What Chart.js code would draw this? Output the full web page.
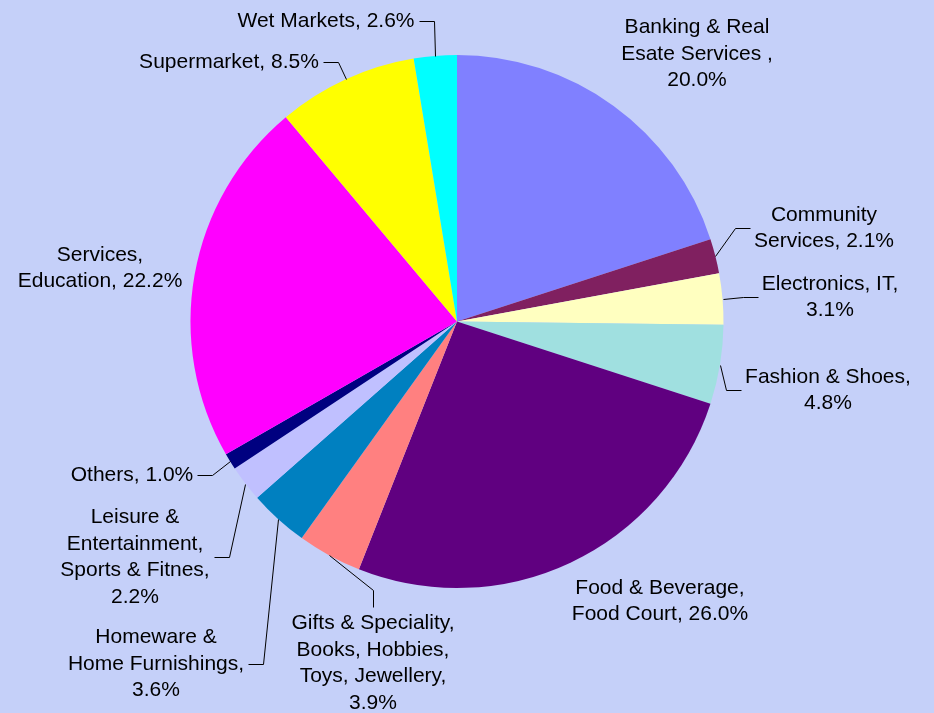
<!DOCTYPE html>
<html>
<head>
<meta charset="utf-8">
<script src="https://cdn.jsdelivr.net/npm/chart.js@4"></script>
<style>
  body { margin: 0; background: #C5D0F9; }
  #wrap { width: 934px; height: 713px; }
</style>
</head>
<body>
<div id="wrap"><canvas id="pieChart" width="934" height="713"></canvas></div>
<script>
const categories = [
    'Banking & Real Esate Services ', 'Community Services', 'Electronics, IT', 'Fashion & Shoes',
    'Food & Beverage, Food Court', 'Gifts & Speciality, Books, Hobbies, Toys, Jewellery',
    'Homeware & Home Furnishings', 'Leisure & Entertainment, Sports & Fitnes', 'Others',
    'Services, Education', 'Supermarket', 'Wet Markets'
];
const shares = [20.0, 2.1, 3.1, 4.8, 26.0, 3.9, 3.6, 2.2, 1.0, 22.2, 8.5, 2.6];
const colors = ['#8080FF', '#802060', '#FFFFC0', '#A0E0E0', '#600080', '#FF8080',
    '#0080C0', '#C0C0FF', '#000080', '#FF00FF', '#FFFF00', '#00FFFF'];

// where each label block sits, how wide it may wrap, and which side gets the leader
const labelLayout = [
    { cx: 697, cy: 54, wrap: 165, lead: null },
    { cx: 824, cy: 228, wrap: 160, lead: 'left' },
    { cx: 830, cy: 297, wrap: 160, lead: 'left' },
    { cx: 828, cy: 390, wrap: 180, lead: 'left' },
    { cx: 660, cy: 601, wrap: 200, lead: null },
    { cx: 373, cy: 663, wrap: 180, lead: 'top' },
    { cx: 156, cy: 664, wrap: 179, lead: 'right' },
    { cx: 135, cy: 557, wrap: 160, lead: 'right' },
    { cx: 132, cy: 475, wrap: 250, lead: 'right' },
    { cx: 100, cy: 268, wrap: 175, lead: null },
    { cx: 229, cy: 62, wrap: 250, lead: 'right' },
    { cx: 326, cy: 21, wrap: 250, lead: 'right' }
];

const FONT = '21px "Liberation Sans", Arial, sans-serif';
const LH = 26.5;

function wrapText(ctx, text, maxW) {
    const words = text.split(' ');
    const lines = [];
    let cur = '';
    words.forEach(w => {
        const test = cur ? cur + ' ' + w : w;
        if (cur && ctx.measureText(test).width > maxW) {
            lines.push(cur);
            cur = w;
        } else {
            cur = test;
        }
    });
    if (cur) lines.push(cur);
    return lines;
}

const outsideLabels = {
    id: 'outsideLabels',
    afterDraw(chart) {
        const ctx = chart.ctx;
        const arcs = chart.getDatasetMeta(0).data;
        ctx.save();
        ctx.font = FONT;
        ctx.fillStyle = '#000';
        ctx.strokeStyle = '#000';
        ctx.lineWidth = 1;
        arcs.forEach((arc, i) => {
            const lay = labelLayout[i];
            const text = categories[i] + ', ' + shares[i].toFixed(1) + '%';
            const lines = wrapText(ctx, text, lay.wrap);
            const w = Math.max(...lines.map(l => ctx.measureText(l).width));
            const top = lay.cy - lines.length * LH / 2;
            ctx.textAlign = 'center';
            ctx.textBaseline = 'middle';
            lines.forEach((l, k) => ctx.fillText(l, lay.cx, top + LH * (k + 0.5)));

            if (!lay.lead) return;
            const p = arc.getProps(['x', 'y', 'startAngle', 'endAngle', 'outerRadius'], true);
            const mid = (p.startAngle + p.endAngle) / 2;
            const ax = p.x + p.outerRadius * Math.cos(mid);
            const ay = p.y + p.outerRadius * Math.sin(mid);
            let ex, ey, bx, by;
            if (lay.lead === 'left') {
                ex = lay.cx - w / 2 - 4; ey = lay.cy; bx = ex - 15; by = ey;
            } else if (lay.lead === 'right') {
                ex = lay.cx + w / 2 + 4; ey = lay.cy; bx = ex + 15; by = ey;
            } else {
                ex = lay.cx; ey = top - 3; bx = ex; by = ey - 17;
            }
            ctx.beginPath();
            ctx.moveTo(Math.round(ax) + 0.5, Math.round(ay) + 0.5);
            ctx.lineTo(Math.round(bx) + 0.5, Math.round(by) + 0.5);
            ctx.lineTo(Math.round(ex) + 0.5, Math.round(ey) + 0.5);
            ctx.stroke();
        });
        ctx.restore();
    }
};

new Chart(document.getElementById('pieChart'), {
    type: 'pie',
    data: {
        labels: categories,
        datasets: [{
            data: shares,
            backgroundColor: colors,
            borderWidth: 0
        }]
    },
    options: {
        responsive: false,
        animation: false,
        layout: { padding: { top: 55, bottom: 125, left: 0, right: 20 } },
        plugins: {
            legend: { display: false },
            tooltip: { enabled: false }
        }
    },
    plugins: [outsideLabels]
});
</script>
</body>
</html>
